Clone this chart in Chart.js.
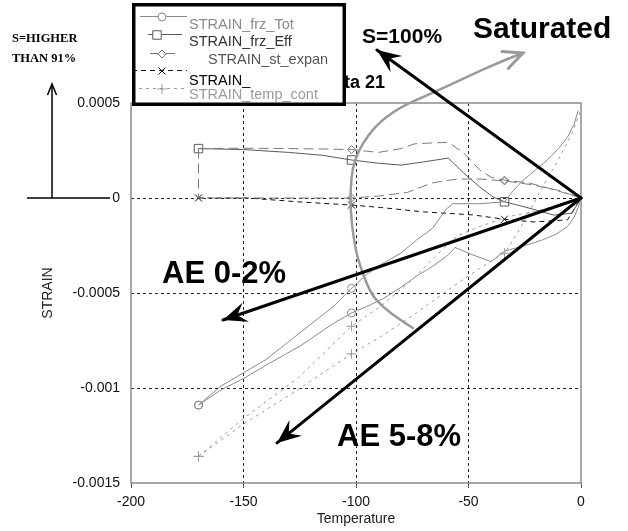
<!DOCTYPE html>
<html>
<head>
<meta charset="utf-8">
<title>STRAIN vs Temperature</title>
<script src="https://cdn.jsdelivr.net/npm/chart.js@4.4.1/dist/chart.umd.min.js"></script>
<style>
  body { margin: 0; background: #fff; }
  #wrap { width: 628px; height: 531px; }
</style>
</head>
<body>
<div id="wrap"><canvas id="strainChart" width="628" height="531"></canvas></div>
<script>
// legend names, in legend order
const seriesNames = ['STRAIN_frz_Tot', 'STRAIN_frz_Eff', 'STRAIN_st_expan', 'STRAIN_', 'STRAIN_temp_cont'];

// axis ranges / ticks
const tempTicks = [-200, -150, -100, -50, 0];
const strainTicks = [-0.0015, -0.001, -0.0005, 0, 0.0005];

// STRAIN_frz_Tot (two runs)
const totTempA = [-170, -160, -150, -140, -125, -110, -102, -95, -89, -80, -73, -66, -60, -57, -45, -34, -30, -26, -20, -15, -10, -6, -3, -1.3];
const totStrainA = [-0.00109, -0.00099, -0.00092, -0.00085, -0.00071, -0.00057, -0.000475, -0.0004, -0.00035, -0.00029, -0.00022, -0.00016, -0.00006, -0.00003, -0.00003, -0.00002, 0.00004, 0.00009, 0.00015, 0.0002, 0.00026, 0.00032, 0.00039, 0.00046];
const totTempB = [-170, -160, -150, -140, -125, -110, -102, -95, -88, -80, -73, -66, -59, -56, -48, -40, -34, -28, -22, -17, -11, -6, -3, -1.3, 0];
const totStrainB = [-0.00109, -0.00101, -0.00095, -0.00088, -0.00078, -0.00066, -0.000605, -0.00057, -0.00053, -0.00047, -0.00041, -0.00036, -0.0003, -0.00026, -0.0003, -0.000335, -0.00028, -0.00026, -0.00024, -0.00022, -0.00019, -0.00015, -0.0001, -0.00005, 0];

// STRAIN_frz_Eff
const effTemp = [-170, -150, -130, -115, -102, -90, -80, -70, -59, -52, -45, -39, -34, -24, -12, -4, 0];
const effStrain = [0.00026, 0.000255, 0.00024, 0.000225, 0.0002, 0.000183, 0.000173, 0.00019, 0.00021, 0.00013, 0.000058, 0.000005, -0.00002, -0.00005, -0.00009, -0.00008, 0];

// STRAIN_st_expan (two runs)
const expanTempA = [-170, -150, -130, -115, -102, -90, -80, -74, -66, -59, -52, -45, -40, -34, -23, -11, 0];
const expanStrainA = [0.00026, 0.000262, 0.00026, 0.000258, 0.000255, 0.00024, 0.00026, 0.000285, 0.00029, 0.000293, 0.000236, 0.000147, 0.00011, 0.000094, 0.000079, 0.00004, 0];
const expanTempB = [-170, -170, -102, -90, -77, -66, -55, -45, -34, -22, -10, 0];
const expanStrainB = [0.00026, 0, 0, 0.00001, 0.00003, 0.00008, 0.0001, 0.0001, 0.00009, 0.00007, 0.00004, 0];

// STRAIN_
const strainTemp = [-170, -148, -126, -102, -89, -70, -48, -34, -21, -6, 0];
const strainVals = [0, 0, -0.00002, -0.000037, -0.00005, -0.000073, -0.000089, -0.000112, -0.000126, -0.000115, 0];

// STRAIN_temp_cont (two runs)
const contTempA = [-170, -150, -126, -102, -89, -75, -55, -45, -34, -28, -22, -17, -12, -8, -4, -1.5, -0.5];
const contStrainA = [-0.00136, -0.00119, -0.00101, -0.00082, -0.00073, -0.00062, -0.00045, -0.00037, -0.00029, -0.00018, -0.00005, 0.00006, 0.00016, 0.00025, 0.00034, 0.00042, 0.00045];
const contTempB = [-170, -150, -126, -102, -89, -75, -65, -55, -45, -33, -20, -8, 0];
const contStrainB = [-0.00136, -0.00116, -0.00095, -0.000675, -0.00057, -0.00043, -0.00031, -0.0002, -0.00015, -0.0001, -0.00007, -0.00003, 0];

// temperatures where a marker is printed
const totMarks = [-170, -102];
const effMarks = [-170, -102, -34];
const expanMarks = [-102, -34];
const strainMarks = [-170, -102, -34];
const contMarks = [-170, -102, -34];

const FONT = '"Liberation Sans", Arial, sans-serif';
Chart.defaults.font.family = FONT;

const looks = {
    'STRAIN_frz_Tot':   { color: '#8a8a8a', text: '#8a8a8a', dash: [],     point: 'circle',   r: 4, marks: totMarks },
    'STRAIN_frz_Eff':   { color: '#5a5a5a', text: '#333',    dash: [],     point: 'rect',     r: 6, marks: effMarks },
    'STRAIN_st_expan':  { color: '#7a7a7a', text: '#555',    dash: [10, 5], point: 'rectRot', r: 4, marks: expanMarks },
    'STRAIN_':          { color: '#111',    text: '#000',    dash: [5, 4], point: 'crossRot', r: 5, marks: strainMarks },
    'STRAIN_temp_cont': { color: '#9c9c9c', text: '#9a9a9a', dash: [3, 4], point: 'cross',    r: 5, marks: contMarks }
};

function makeLine(name, temps, strains) {
    const look = looks[name];
    return {
        label: name,
        data: temps.map((t, i) => ({ x: t, y: strains[i] })),
        showLine: true,
        borderColor: look.color,
        borderWidth: 1,
        borderDash: look.dash,
        backgroundColor: 'rgba(0,0,0,0)',
        fill: false,
        tension: 0,
        pointStyle: look.point,
        pointRadius: ctx => (ctx.raw && look.marks.includes(ctx.raw.x)) ? look.r : 0,
        pointHoverRadius: 0,
        pointBorderColor: look.color,
        pointBackgroundColor: 'rgba(0,0,0,0)',
        pointBorderWidth: 1
    };
}

// annotations, in data units (temperature, strain)
const swingPath = [[-74.7, -0.000684], [-80.4, -0.000642], [-88, -0.000574], [-93.8, -0.0005], [-99.6, -0.000311],
    [-101.8, -0.000153], [-102.7, 0.000005], [-101.3, 0.0002], [-92.4, 0.000374], [-80.4, 0.000479],
    [-65.8, 0.000553], [-50.7, 0.000637], [-36, 0.000716], [-25.8, 0.000763]];
const arrowTips = [[-90.7, 0.000779], [-159.1, -0.000642], [-135.1, -0.001289]];
const notes = [
    { text: 'Saturated', x: -48, y: 0.000842, font: 'bold 30px ' + FONT, align: 'left' },
    { text: 'S=100%', x: -97.3, y: 0.000816, font: 'bold 21px ' + FONT, align: 'left' },
    { text: 'Data 21', x: -87.1, y: 0.000579, font: 'bold 18px ' + FONT, align: 'right' },
    { text: 'AE 0-2%', x: -186.2, y: -0.000447, font: 'bold 31px ' + FONT, align: 'left' },
    { text: 'AE 5-8%', x: -108.4, y: -0.001305, font: 'bold 31px ' + FONT, align: 'left' },
    { text: 'S=HIGHER', x: -252.9, y: 0.000821, font: 'bold 12.5px "Liberation Serif", serif', align: 'left' },
    { text: 'THAN 91%', x: -252.9, y: 0.000716, font: 'bold 12.5px "Liberation Serif", serif', align: 'left' }
];

function barbHead(ctx, fx, fy, tx, ty, len, half, notch) {
    const a = Math.atan2(ty - fy, tx - fx);
    const c = Math.cos(a), s = Math.sin(a);
    const bx = tx - c * len, by = ty - s * len;
    ctx.beginPath();
    ctx.moveTo(tx, ty);
    ctx.lineTo(bx - s * half, by + c * half);
    ctx.lineTo(tx - c * notch, ty - s * notch);
    ctx.lineTo(bx + s * half, by - c * half);
    ctx.closePath();
    ctx.fill();
}

function openHead(ctx, fx, fy, tx, ty, len, half) {
    const a = Math.atan2(ty - fy, tx - fx);
    const c = Math.cos(a), s = Math.sin(a);
    const bx = tx - c * len, by = ty - s * len;
    ctx.beginPath();
    ctx.moveTo(bx - s * half, by + c * half);
    ctx.lineTo(tx, ty);
    ctx.lineTo(bx + s * half, by - c * half);
    ctx.stroke();
}

function drawMarker(ctx, style, x, y, r) {
    ctx.beginPath();
    if (style === 'circle') {
        ctx.arc(x, y, r, 0, Math.PI * 2);
    } else if (style === 'rect') {
        const h = r * Math.SQRT1_2;
        ctx.rect(x - h, y - h, 2 * h, 2 * h);
    } else if (style === 'rectRot') {
        ctx.moveTo(x, y - r); ctx.lineTo(x + r, y); ctx.lineTo(x, y + r); ctx.lineTo(x - r, y); ctx.closePath();
    } else if (style === 'crossRot') {
        const d = r * Math.SQRT1_2;
        ctx.moveTo(x - d, y - d); ctx.lineTo(x + d, y + d);
        ctx.moveTo(x - d, y + d); ctx.lineTo(x + d, y - d);
    } else {
        ctx.moveTo(x, y - r); ctx.lineTo(x, y + r);
        ctx.moveTo(x - r, y); ctx.lineTo(x + r, y);
    }
    if (style === 'circle' || style === 'rect' || style === 'rectRot') {
        ctx.fillStyle = '#fff';
        ctx.fill();
    }
    ctx.stroke();
}

const frame = {
    id: 'frame',
    beforeDatasetsDraw(chart) {
        const { ctx, chartArea: a } = chart;
        ctx.save();
        ctx.strokeStyle = '#8c8c8c';
        ctx.lineWidth = 1.5;
        ctx.strokeRect(a.left, a.top, a.right - a.left, a.bottom - a.top);
        ctx.restore();
    }
};

const annotate = {
    id: 'annotate',
    afterDatasetsDraw(chart) {
        const { ctx, scales: { x, y } } = chart;
        const px = v => x.getPixelForValue(v);
        const py = v => y.getPixelForValue(v);
        ctx.save();

        // gray swing arrow
        const pts = swingPath.map(p => [px(p[0]), py(p[1])]);
        ctx.strokeStyle = '#9a9a9a';
        ctx.lineWidth = 2.5;
        ctx.lineCap = 'round';
        ctx.beginPath();
        ctx.moveTo(pts[0][0], pts[0][1]);
        for (let i = 1; i < pts.length - 1; i++) {
            const mx = (pts[i][0] + pts[i + 1][0]) / 2, my = (pts[i][1] + pts[i + 1][1]) / 2;
            ctx.quadraticCurveTo(pts[i][0], pts[i][1], mx, my);
        }
        const last = pts[pts.length - 1], prev = pts[pts.length - 2];
        ctx.lineTo(last[0], last[1]);
        ctx.stroke();
        ctx.lineWidth = 3;
        openHead(ctx, prev[0], prev[1], last[0], last[1], 19, 9);

        // black arrows out of the origin
        const ox = px(0), oy = py(0);
        ctx.strokeStyle = '#000';
        ctx.fillStyle = '#000';
        ctx.lineWidth = 3;
        arrowTips.forEach(t => {
            const tx = px(t[0]), ty = py(t[1]);
            ctx.beginPath();
            ctx.moveTo(ox, oy);
            ctx.lineTo(tx, ty);
            ctx.stroke();
            barbHead(ctx, ox, oy, tx, ty, 24, 10, 15);
        });

        // S=HIGHER marker on the left
        ctx.lineWidth = 1.5;
        ctx.lineCap = 'butt';
        ctx.beginPath();
        ctx.moveTo(px(-246.2), oy);
        ctx.lineTo(px(-209.3), oy);
        ctx.moveTo(px(-235.1), oy);
        ctx.lineTo(px(-235.1), py(0.0006));
        ctx.stroke();
        openHead(ctx, px(-235.1), oy, px(-235.1), py(0.0006), 11, 4.5);

        // text notes
        ctx.fillStyle = '#000';
        ctx.textBaseline = 'alphabetic';
        notes.forEach(n => {
            ctx.font = n.font;
            ctx.textAlign = n.align;
            ctx.fillText(n.text, px(n.x), py(n.y));
        });
        ctx.restore();
    }
};

// legend rows: sample line y, text baseline, sample extent, marker x, text x
const legendRows = [
    { ly: 16, ty: 29, x0: 140, x1: 187, mx: 162, tx: 189 },
    { ly: 34, ty: 46, x0: 148, x1: 182, mx: 157, tx: 189 },
    { ly: 53, ty: 64, x0: 150, x1: 176, mx: 162, tx: 208 },
    { ly: 70, ty: 85, x0: 132, x1: 187, mx: 162, tx: 189 },
    { ly: 88, ty: 99, x0: 132, x1: 187, mx: 162, tx: 189 }
];

const boxLegend = {
    id: 'boxLegend',
    afterDraw(chart) {
        const { ctx } = chart;
        ctx.save();
        ctx.fillStyle = '#fff';
        ctx.fillRect(132, 3, 214, 103);
        ctx.save();
        ctx.beginPath();
        ctx.rect(132, 3, 212, 101);
        ctx.clip();
        seriesNames.forEach((name, i) => {
            const look = looks[name];
            const row = legendRows[i];
            ctx.strokeStyle = look.color;
            ctx.lineWidth = 1;
            ctx.setLineDash(look.dash);
            ctx.beginPath();
            ctx.moveTo(row.x0, row.ly + 0.5);
            ctx.lineTo(row.x1, row.ly + 0.5);
            ctx.stroke();
            ctx.setLineDash([]);
            drawMarker(ctx, look.point, row.mx, row.ly + 1, look.r);
            ctx.fillStyle = look.text;
            ctx.font = '14.5px ' + FONT;
            ctx.textAlign = 'left';
            ctx.textBaseline = 'alphabetic';
            ctx.fillText(name, row.tx, row.ty);
        });
        ctx.restore();
        ctx.strokeStyle = '#000';
        ctx.lineWidth = 3.5;
        ctx.strokeRect(133.75, 4.75, 210.5, 99.5);
        ctx.restore();
    }
};

function edgeColor(c) {
    const v = c.tick ? c.tick.value : null;
    const s = c.scale;
    if (v === null || Math.abs(v - s.min) < 1e-9 || Math.abs(v - s.max) < 1e-9) return 'rgba(0,0,0,0)';
    return '#222';
}

new Chart(document.getElementById('strainChart'), {
    type: 'scatter',
    data: {
        datasets: [
            makeLine('STRAIN_temp_cont', contTempA, contStrainA),
            makeLine('STRAIN_temp_cont', contTempB, contStrainB),
            makeLine('STRAIN_frz_Tot', totTempA, totStrainA),
            makeLine('STRAIN_frz_Tot', totTempB, totStrainB),
            makeLine('STRAIN_st_expan', expanTempA, expanStrainA),
            makeLine('STRAIN_st_expan', expanTempB, expanStrainB),
            makeLine('STRAIN_frz_Eff', effTemp, effStrain),
            makeLine('STRAIN_', strainTemp, strainVals)
        ]
    },
    options: {
        responsive: false,
        animation: false,
        layout: { padding: { left: 36, right: 47, top: 103, bottom: 0 } },
        plugins: {
            legend: { display: false },
            tooltip: { enabled: false }
        },
        scales: {
            x: {
                type: 'linear',
                min: tempTicks[0],
                max: tempTicks[tempTicks.length - 1],
                afterBuildTicks: s => { s.ticks = tempTicks.map(v => ({ value: v })); },
                afterFit: s => { s.height = 48; },
                border: { display: false, dash: [3, 3] },
                grid: { color: edgeColor, lineWidth: 1, tickLength: 5, tickColor: '#555', tickBorderDash: [] },
                ticks: { color: '#111', font: { size: 14 }, padding: 6, maxRotation: 0 },
                title: { display: true, text: 'Temperature', color: '#222', font: { size: 14 }, padding: { top: 0, bottom: 3 } }
            },
            y: {
                type: 'linear',
                min: strainTicks[0],
                max: strainTicks[strainTicks.length - 1],
                afterBuildTicks: s => { s.ticks = strainTicks.map(v => ({ value: v })); },
                afterFit: s => { s.width = 95; },
                border: { display: false, dash: [3, 3] },
                grid: { color: edgeColor, lineWidth: 1, drawTicks: false },
                ticks: {
                    color: '#111',
                    font: { size: 14 },
                    padding: 11,
                    callback: v => String(Number(v.toFixed(4)))
                },
                title: { display: true, text: 'STRAIN', color: '#222', font: { size: 14 }, padding: { top: 4, bottom: 0 } }
            }
        }
    },
    plugins: [frame, annotate, boxLegend]
});
</script>
</body>
</html>
